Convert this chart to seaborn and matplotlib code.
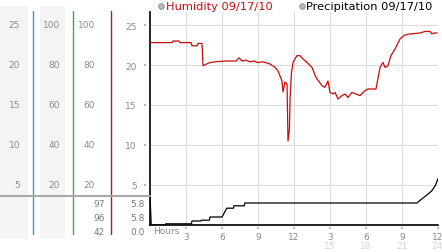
import numpy as np
import pandas as pd
import matplotlib
matplotlib.use("Agg")
import matplotlib.pyplot as plt
from matplotlib import transforms
from matplotlib.lines import Line2D
from matplotlib.patches import Rectangle
import seaborn as sns

# ---------------- data ----------------
hum_hours = [0.0, 1.83, 1.92, 2.42, 2.5, 3.42, 3.5, 3.92, 4.0, 4.33, 4.42, 4.67, 5.0, 5.42,
             6.25, 7.17, 7.42, 7.67, 8.0, 8.33, 8.67, 9.0, 9.33, 9.58, 10.0, 10.42, 10.67,
             11.0, 11.08, 11.25, 11.42, 11.5, 11.62, 11.67, 11.79, 11.92, 12.25, 12.5, 12.75,
             13.08, 13.5, 13.83, 14.17, 14.33, 14.58, 14.83, 15.0, 15.25, 15.42, 15.67, 16.0,
             16.25, 16.5, 16.83, 17.17, 17.5, 17.92, 18.17, 18.83, 19.17, 19.42, 19.58, 19.83,
             20.08, 20.42, 20.83, 21.17, 21.5, 22.5, 22.92, 23.33, 23.5, 23.67, 23.92]
hum_pct = [91.2, 91.2, 92.0, 92.0, 91.2, 91.2, 89.6, 89.6, 90.8, 90.8, 79.6, 80.4, 81.2, 81.6,
           82.0, 82.0, 83.6, 82.0, 82.4, 81.6, 82.0, 81.2, 81.6, 81.3, 80.5, 78.8, 77.0,
           72.0, 66.5, 71.5, 70.5, 42.0, 48.0, 63.0, 76.3, 81.3, 84.7, 84.7, 83.0,
           81.3, 78.8, 73.8, 71.0, 69.7, 68.8, 72.0, 66.3, 65.5, 66.3, 63.0, 64.7,
           65.5, 63.8, 66.3, 65.5, 64.7, 67.2, 68.0, 68.0, 78.8, 81.3, 78.8, 79.6,
           84.7, 88.0, 93.0, 94.8, 95.4, 96.0, 96.8, 96.8, 95.6, 96.0, 96.0]

precip_hours = [0.0, 0.1, 1.25, 1.3, 3.45, 3.5, 4.25, 4.3, 4.95, 5.0, 6.0, 6.4, 6.95, 7.0,
                7.85, 7.9, 22.25, 22.6, 23.2, 23.5, 23.8, 24.0]
precip_mm = [3.7, 0.0, 0.0, 0.15, 0.15, 0.5, 0.5, 0.6, 0.6, 1.0, 1.0, 2.1, 2.1, 2.4,
             2.4, 2.75, 2.75, 3.2, 3.9, 4.3, 5.0, 5.8]

y_ticks = [5, 10, 15, 20, 25]
pct_ticks = [20, 40, 60, 80, 100]
x_ticks = [3, 6, 9, 12, 15, 18, 21, 24]
x_labels = ['3', '6', '9', '12', '3', '6', '9', '12']
x_labels_24 = ['', '', '', '', '15', '18', '21', '24']
hum_stats = ['97', '96', '42']
precip_stats = ['5.8', '5.8', '0.0']

hum_label = 'Humidity 09/17/10'
precip_label = 'Precipitation 09/17/10'

# ---------------- style ----------------
sns.set_theme(style='white')
plt.rcParams['font.family'] = ['DejaVu Sans']

W, H = 442, 253
fig = plt.figure(figsize=(4.42, 2.53), dpi=100)
fig.patch.set_facecolor('white')


def fx(px):
    return px / W


def fy(py):
    return 1 - py / H


GRAY_TXT = '#8a8a8a'
FS = 6.5

# background bands of the left panel
for x0, x1 in [(0, 28), (40, 65)]:
    fig.add_artist(Rectangle((fx(x0), fy(240)), fx(x1) - fx(x0), fy(7) - fy(240),
                             transform=fig.transFigure, facecolor='#f4f4f4',
                             edgecolor='none', zorder=0))

ax = fig.add_axes([fx(150), fy(226), fx(438) - fx(150), fy(13) - fy(226)])
ax.set_facecolor('none')
ax.set_xlim(0, 24)
ax.set_ylim(0, 26.625)

hum_df = pd.DataFrame({'hour': hum_hours, 'value': np.array(hum_pct) / 4.0})
pre_df = pd.DataFrame({'hour': precip_hours, 'value': precip_mm})

sns.lineplot(data=hum_df, x='hour', y='value', ax=ax, color='#cc0a0a', lw=0.9,
             estimator=None, sort=False, zorder=3)
sns.lineplot(data=pre_df, x='hour', y='value', ax=ax, color='black', lw=0.9,
             estimator=None, sort=False, zorder=3)

ax.set_xlabel('')
ax.set_ylabel('')
ax.set_xticks(x_ticks[:-1])
ax.set_xticklabels([])
ax.set_yticks(y_ticks)
ax.set_yticklabels([str(v) for v in y_ticks], color=GRAY_TXT, fontsize=FS)
ax.tick_params(axis='y', length=0, pad=9.4)
ax.tick_params(axis='x', length=0)
ax.grid(True, color='#dcdcdc', lw=0.8)
ax.set_axisbelow(True)
for s in ['top', 'right']:
    ax.spines[s].set_visible(False)
for s in ['left', 'bottom']:
    ax.spines[s].set_visible(True)
    ax.spines[s].set_color('black')
    ax.spines[s].set_linewidth(1.2)

# small markers next to y tick labels and above x labels
ytr = transforms.offset_copy(ax.get_yaxis_transform(), fig=fig, x=-5, y=0, units='dots')
ax.scatter(np.zeros(len(y_ticks)), y_ticks, transform=ytr, marker='s', s=3,
           color='#bdbdbd', clip_on=False, zorder=4, linewidths=0)
xtr = transforms.blended_transform_factory(ax.transData, fig.transFigure)
ax.scatter(x_ticks, [fy(229)] * len(x_ticks), transform=xtr, marker='s', s=3,
           color='#bdbdbd', clip_on=False, zorder=4, linewidths=0)
xtr_last = transforms.offset_copy(xtr, fig=fig, x=5, y=0, units='dots')
for i, (xv, lab, lab2) in enumerate(zip(x_ticks, x_labels, x_labels_24)):
    last = (i == len(x_ticks) - 1)
    tr = xtr_last if last else xtr
    ha = 'right' if last else 'center'
    ax.text(xv, fy(238), lab, transform=tr, fontsize=FS, color=GRAY_TXT,
            ha=ha, va='center')
    if lab2:
        ax.text(xv, fy(247), lab2, transform=tr, fontsize=FS, color='#d4d4d4',
                ha=ha, va='center')
fig.text(fx(153), fy(232), 'Hours', fontsize=FS, color=GRAY_TXT, ha='left', va='center')

# left panel columns
ctr = transforms.blended_transform_factory(fig.transFigure, ax.transData)
for xr, vals in [(20, y_ticks), (60, pct_ticks), (95, pct_ticks)]:
    for v, lab in zip(y_ticks, vals):
        fig.text(fx(xr), v, str(lab), transform=ctr, fontsize=FS, color=GRAY_TXT,
                 ha='right', va='center')

for xpos, col in [(33, '#2b9fc9'), (72.5, '#3aad3a'), (111, '#b01c1c')]:
    fig.add_artist(Line2D([fx(xpos), fx(xpos)], [fy(235), fy(12)], transform=fig.transFigure,
                          color=col, lw=1.0, zorder=2))

fig.add_artist(Line2D([0, fx(150)], [fy(197), fy(197)], transform=fig.transFigure,
                      color='#a8a8a8', lw=1.5, zorder=3))

for i, (hs, ps) in enumerate(zip(hum_stats, precip_stats)):
    yy = fy(205 + 14 * i)
    fig.text(fx(105), yy, hs, fontsize=FS, color='#7a7a7a', ha='right', va='center')
    fig.text(fx(145), yy, ps, fontsize=FS, color='#7a7a7a', ha='right', va='center')

# header legend
for cx, tx, lab, col in [(161, 166, hum_label, '#cc0a0a'), (302, 306, precip_label, 'black')]:
    fig.add_artist(Line2D([fx(cx)], [fy(6.5)], transform=fig.transFigure, marker='o',
                          markersize=4, markerfacecolor='#b8b8b8', markeredgecolor='#8c8c8c',
                          markeredgewidth=0.6, lw=0))
    fig.text(fx(tx), fy(6.5), lab, fontsize=8.2, color=col, ha='left', va='center')

fig.savefig('out.png', dpi=100)
